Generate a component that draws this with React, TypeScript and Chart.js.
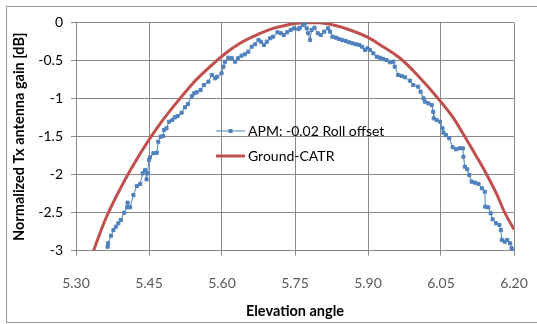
import React, { useEffect, useRef } from "react";
import { Chart, registerables } from "chart.js";

Chart.register(...registerables);

const apmLabel = "APM: -0.02 Roll offset";
const catrLabel = "Ground-CATR";

const xTickValues = [5.3, 5.45, 5.6, 5.75, 5.9, 6.05, 6.2];

const apmX = [
  5.365, 5.366, 5.372, 5.377, 5.382, 5.387, 5.392, 5.399, 5.405, 5.406, 5.411, 5.418, 5.425, 5.432, 5.437, 5.442,
  5.445, 5.447, 5.45, 5.452, 5.459, 5.466, 5.469, 5.474, 5.479, 5.481, 5.486, 5.491, 5.498, 5.503, 5.509, 5.517,
  5.524, 5.53, 5.538, 5.543, 5.548, 5.556, 5.563, 5.572, 5.579, 5.586, 5.59, 5.599, 5.603, 5.606, 5.613, 5.62,
  5.627, 5.633, 5.64, 5.647, 5.654, 5.661, 5.668, 5.675, 5.68, 5.686, 5.692, 5.699, 5.705, 5.714, 5.721, 5.727,
  5.734, 5.741, 5.748, 5.757, 5.76, 5.767, 5.771, 5.774, 5.777, 5.781, 5.784, 5.79, 5.797, 5.803, 5.81, 5.818,
  5.822, 5.827, 5.834, 5.84, 5.847, 5.854, 5.861, 5.868, 5.875, 5.882, 5.888, 5.894, 5.899, 5.904, 5.911, 5.918,
  5.925, 5.931, 5.938, 5.945, 5.952, 5.955, 5.962, 5.969, 5.976, 5.986, 5.993, 6.003, 6.008, 6.014, 6.017, 6.024,
  6.031, 6.034, 6.035, 6.041, 6.048, 6.053, 6.055, 6.06, 6.067, 6.074, 6.081, 6.088, 6.095, 6.096, 6.099, 6.104,
  6.108, 6.113, 6.12, 6.127, 6.134, 6.14, 6.141, 6.147, 6.152, 6.156, 6.163, 6.17, 6.173, 6.175, 6.181, 6.186,
  6.192, 6.195, 6.198,
];

const apmY = [
  -2.947, -2.903, -2.803, -2.728, -2.684, -2.639, -2.596, -2.5, -2.429, -2.368, -2.429, -2.267, -2.149, -2.122, -1.982, -1.938,
  -2.061, -1.982, -1.807, -1.771, -1.718, -1.711, -1.566, -1.5, -1.491, -1.412, -1.389, -1.303, -1.28, -1.245, -1.228, -1.184,
  -1.113, -1.07, -0.964, -0.929, -0.916, -0.886, -0.82, -0.776, -0.688, -0.732, -0.711, -0.666, -0.579, -0.513, -0.461, -0.468,
  -0.513, -0.468, -0.434, -0.416, -0.382, -0.316, -0.284, -0.228, -0.25, -0.293, -0.25, -0.205, -0.184, -0.126, -0.139, -0.162,
  -0.126, -0.096, -0.074, -0.083, -0.066, -0.03, 0.0, -0.074, -0.139, -0.228, -0.096, -0.066, -0.139, -0.162, -0.118, -0.074,
  -0.118, -0.184, -0.197, -0.214, -0.228, -0.241, -0.258, -0.271, -0.284, -0.293, -0.316, -0.359, -0.337, -0.359, -0.403, -0.447,
  -0.461, -0.478, -0.491, -0.521, -0.513, -0.579, -0.688, -0.701, -0.718, -0.763, -0.82, -0.842, -0.908, -0.995, -1.039, -1.061,
  -1.083, -1.171, -1.258, -1.28, -1.303, -1.389, -1.447, -1.478, -1.521, -1.639, -1.666, -1.653, -1.653, -1.763, -1.895, -1.929,
  -2.004, -2.092, -2.105, -2.122, -2.179, -2.224, -2.421, -2.429, -2.508, -2.587, -2.639, -2.662, -2.728, -2.859, -2.882, -2.859,
  -2.903, -2.968, -3.0,
];

const catrX = [
  5.336, 5.363, 5.397, 5.432, 5.466, 5.5, 5.534, 5.555, 5.603, 5.637, 5.671, 5.705, 5.74, 5.767, 5.801, 5.829,
  5.863, 5.897, 5.931, 5.966, 6.0, 6.048, 6.075, 6.099, 6.122, 6.144, 6.164, 6.181, 6.2,
];

const catrY = [
  -3.0, -2.55, -2.11, -1.72, -1.39, -1.105, -0.842, -0.7, -0.425, -0.271, -0.162, -0.074, -0.021, 0.0, 0.0, -0.03,
  -0.096, -0.184, -0.316, -0.468, -0.679, -1.026, -1.25, -1.5, -1.75, -2.0, -2.25, -2.5, -2.72,
];

const BLUE = "#4F81BD";
const RED = "#C0504D";
const GRID = "#8A8A8A";
const FONT = "Lato, 'Liberation Sans', sans-serif";

const insideLegend = {
  id: "insideLegend",
  afterDatasetsDraw(chart: any) {
    const ctx = chart.ctx;
    const ds = chart.data.datasets;
    const x0 = 216;
    const x1 = 245;
    const rows = [131, 156];
    ctx.save();
    ds.forEach((d: any, i: number) => {
      const y = rows[i];
      ctx.strokeStyle = d.borderColor;
      ctx.lineWidth = d.borderWidth;
      ctx.beginPath();
      ctx.moveTo(x0, y);
      ctx.lineTo(x1, y);
      ctx.stroke();
      if (d.pointRadius > 0) {
        ctx.fillStyle = d.borderColor;
        ctx.fillRect((x0 + x1) / 2 - 2, y - 2, 4, 4);
      }
      ctx.fillStyle = "#000000";
      ctx.font = `14px ${FONT}`;
      ctx.textBaseline = "middle";
      ctx.textAlign = "left";
      ctx.fillText(d.label, x1 + 3, y);
    });
    ctx.restore();
  },
};

export default function App() {
  const ref = useRef<HTMLCanvasElement | null>(null);

  useEffect(() => {
    document.body.style.margin = "0";
    document.body.style.overflow = "hidden";
    const canvas = ref.current;
    if (!canvas) return;
    const chart = new Chart(canvas, {
      type: "line",
      data: {
        datasets: [
          {
            label: apmLabel,
            data: apmX.map((x, i) => ({ x, y: apmY[i] })),
            borderColor: BLUE,
            backgroundColor: BLUE,
            borderWidth: 1,
            pointStyle: "rect",
            pointRadius: 2.2,
            pointBorderWidth: 1,
            pointBackgroundColor: BLUE,
            pointBorderColor: BLUE,
            fill: false,
          },
          {
            label: catrLabel,
            data: catrX.map((x, i) => ({ x, y: catrY[i] })),
            borderColor: RED,
            backgroundColor: RED,
            borderWidth: 3,
            pointRadius: 0,
            tension: 0.4,
            fill: false,
          },
        ],
      },
      options: {
        responsive: false,
        animation: false,
        layout: { padding: { top: 22.7, right: 23, left: 0, bottom: 0 } },
        plugins: {
          legend: { display: false },
          tooltip: { enabled: false },
        },
        scales: {
          x: {
            type: "linear",
            min: 5.3,
            max: 6.2,
            afterBuildTicks: (s: any) => {
              s.ticks = xTickValues.map((v) => ({ value: v }));
            },
            afterFit: (s: any) => {
              s.height = 73.3;
              s.paddingLeft = 0;
              s.paddingRight = 0;
            },
            grid: { color: GRID, lineWidth: 1, tickLength: 5, drawTicks: true },
            border: { color: GRID, width: 1 },
            ticks: {
              color: "#595959",
              font: { family: FONT, size: 14 },
              padding: 19,
              maxRotation: 0,
              autoSkip: false,
              callback: (v: any) => Number(v).toFixed(2),
            },
            title: {
              display: true,
              text: "Elevation angle",
              color: "#000000",
              font: { family: FONT, size: 14.5, weight: "bold" },
              padding: { top: 0, bottom: 4 },
            },
          },
          y: {
            type: "linear",
            min: -3,
            max: 0,
            ticks: {
              stepSize: 0.5,
              color: "#000000",
              font: { family: FONT, size: 14 },
              padding: 8,
              callback: (v: any) => String(Number(v)),
            },
            afterFit: (s: any) => {
              s.width = 76;
              s.paddingTop = 0;
              s.paddingBottom = 0;
            },
            grid: { color: GRID, lineWidth: 1, tickLength: 5, drawTicks: true },
            border: { color: GRID, width: 1 },
            title: {
              display: true,
              text: "Normalized Tx antenna gain [dB]",
              color: "#000000",
              font: { family: FONT, size: 14.5, weight: "bold" },
              padding: { top: 11, bottom: 0 },
            },
          },
        },
      },
      plugins: [insideLegend],
    } as any);
    return () => chart.destroy();
  }, []);

  return (
    <div style={{ position: "relative", width: 537, height: 324, overflow: "hidden", background: "#ffffff" }}>
      <canvas ref={ref} width={537} height={324} style={{ display: "block" }} />
      <div
        style={{
          position: "absolute",
          left: 6,
          top: 6,
          width: 560,
          height: 315,
          border: "1px solid #9a9a9a",
          pointerEvents: "none",
        }}
      />
    </div>
  );
}
